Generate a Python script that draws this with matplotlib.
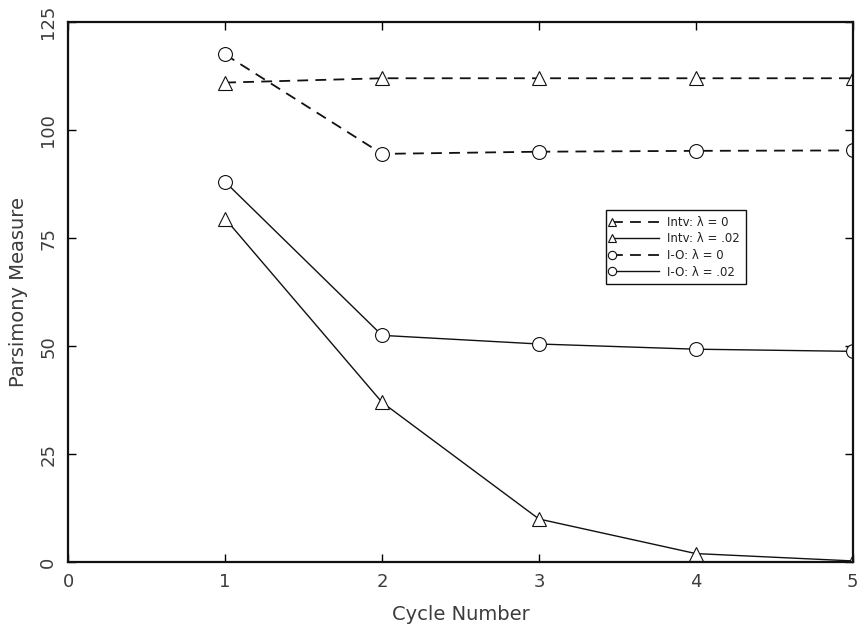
import matplotlib
matplotlib.use("Agg")
import matplotlib.pyplot as plt

# valeurs
cycles = [1, 2, 3, 4, 5]
intv_l0 = [111.0, 112.0, 112.0, 112.0, 112.0]
intv_l02 = [79.5, 37.0, 10.0, 2.0, 0.3]
io_l0 = [117.5, 94.5, 95.0, 95.2, 95.3]
io_l02 = [88.0, 52.5, 50.5, 49.3, 48.8]

x_ticks = [0, 1, 2, 3, 4, 5]
y_ticks = [0, 25, 50, 75, 100, 125]

plt.rcParams['font.family'] = ['DejaVu Sans']

fig = plt.figure(figsize=(8.64, 6.31), dpi=100)
ax = fig.add_axes([0.079, 0.109, 0.908, 0.856])

c = '#111111'
tc = '#3c3c3c'
ms = 10
ax.plot(cycles, intv_l0, ls=(0, (6, 4)), color=c, lw=1.3, marker='^', ms=ms,
        mfc='white', mec=c, mew=0.8, label='Intv: λ = 0')
ax.plot(cycles, intv_l02, ls='-', color=c, lw=1.0, marker='^', ms=ms,
        mfc='white', mec=c, mew=0.8, label='Intv: λ = .02')
ax.plot(cycles, io_l0, ls=(0, (6, 4)), color=c, lw=1.3, marker='o', ms=ms,
        mfc='white', mec=c, mew=0.8, label='I-O: λ = 0')
ax.plot(cycles, io_l02, ls='-', color=c, lw=1.0, marker='o', ms=ms,
        mfc='white', mec=c, mew=0.8, label='I-O: λ = .02')

ax.set_xlim(0, 5)
ax.set_ylim(0, 125)
ax.set_xticks(x_ticks)
ax.set_yticks(y_ticks)
ax.tick_params(direction='in', length=6, width=1, top=True, right=True,
               labelsize=13, labelcolor=tc, pad=8)
for lab in ax.get_yticklabels():
    lab.set_rotation(90)
    lab.set_va('center')
for s in ax.spines.values():
    s.set_linewidth(1.6)
    s.set_color(c)

ax.set_xlabel('Cycle Number', fontsize=14, color=tc, labelpad=10)
ax.set_ylabel('Parsimony Measure', fontsize=14, color=tc, labelpad=8)

leg = ax.legend(loc='upper left', bbox_to_anchor=(0.685, 0.652), fontsize=8.5,
                frameon=True, fancybox=False, edgecolor=c, framealpha=1,
                handlelength=4.0, handletextpad=0.7, markerscale=0.6,
                borderpad=0.5, labelspacing=0.3, numpoints=1,
                borderaxespad=0)
leg.get_frame().set_linewidth(1.0)
for ln in leg.get_lines():
    ln.set_markevery([0])
for t in leg.get_texts():
    t.set_color('#222222')

fig.savefig('out.png', dpi=100)
